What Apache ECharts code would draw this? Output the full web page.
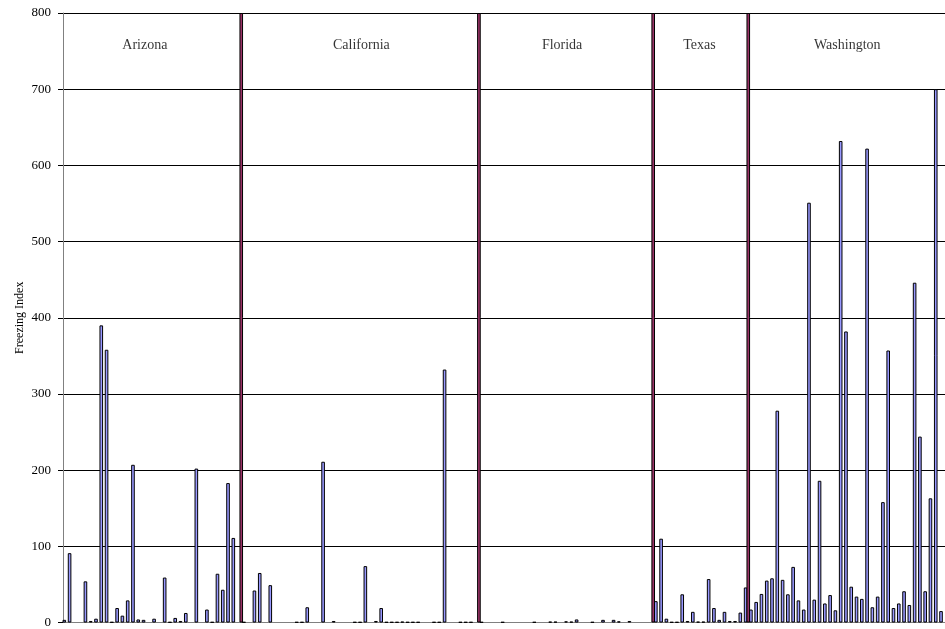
<!DOCTYPE html>
<html>
<head>
<meta charset="utf-8">
<script src="https://cdn.jsdelivr.net/npm/echarts@6/dist/echarts.min.js"></script>
<style>
  html, body { margin: 0; padding: 0; background: #fff; }
  #chart { width: 945px; height: 629px; }
</style>
</head>
<body>
<div id="chart"></div>
<script>
// freezing index per site, in chart order (null = no value)
const freezingIndex = [
  3.5, 91, null, null, 54, 2, 5, 390, 358, 0.5,
  19, 9, 29, 207, 4, 3.5, null, 5, null, 59,
  0.5, 6, 2, 12.5, null, 202, null, 17, 0.5, 64,
  43, 183, 111, null, 0.5, null, 42, 65, null, 49,
  null, null, null, null, 0.5, 0.5, 20, null, null, 211,
  null, 2, null, null, null, 0.5, 0.5, 74, null, 2,
  19, 0.5, 0.5, 0.5, 1, 0.5, 0.5, 0.5, null, null,
  0.5, 0.5, 332, null, null, 0.5, 0.5, 0.5, null, 0.5,
  null, null, null, 0.5, null, null, null, null, null, 0.5,
  null, null, 1, 1, null, 1.5, 1, 4, null, null,
  0.5, null, 3.5, null, 3.5, 1.5, null, 2, null, null,
  null, null, 28, 110, 5, 0.5, 0.5, 37, 2, 14,
  1, 1, 57, 19, 3.5, 14, 2, 2, 13, 46,
  17, 27, 37.5, 55, 58, 278, 56, 37, 73, 29,
  17, 551, 30, 186, 25, 36, 16, 632, 382, 47,
  34, 31, 622, 20, 34, 158, 357, 19, 25, 41,
  23, 446, 244, 41, 163, 700, 15
]

// state dividers (second series, full height)
const dividerSites = [33, 78, 111, 129]
const dividerValue = 800

const states = ['Arizona', 'California', 'Florida', 'Texas', 'Washington']
const stateLabelSites = [15, 56, 94, 120, 148]
const stateLabelValue = 757

const yTicks = { min: 0, max: 800, interval: 100 }

const sites = freezingIndex.map((v, i) => 'Site ' + (i + 1))
const dividers = freezingIndex.map((v, i) => dividerSites.indexOf(i) >= 0 ? dividerValue : null)
const stateLabels = states.map((s, i) => ({ name: s, value: [stateLabelSites[i], stateLabelValue] }))

const chart = echarts.init(document.getElementById('chart'))
chart.setOption({
  animation: false,
  grid: {
    left: 63,
    right: -2.4,
    top: 13,
    bottom: 4
  },
  xAxis: {
    type: 'category',
    data: sites,
    axisLine: { show: true, lineStyle: { color: '#808080', width: 1 } },
    axisTick: { show: false },
    axisLabel: { show: false },
    splitLine: { show: false }
  },
  yAxis: {
    type: 'value',
    min: yTicks.min,
    max: yTicks.max,
    interval: yTicks.interval,
    name: 'Freezing Index',
    nameLocation: 'middle',
    nameGap: 37,
    nameMoveOverlap: false,
    nameTextStyle: { fontFamily: 'Liberation Serif', fontSize: 12, color: '#000' },
    axisLine: { show: true, lineStyle: { color: '#808080', width: 1 } },
    axisTick: { show: true, inside: false, length: 5, lineStyle: { color: '#000' } },
    axisLabel: { fontFamily: 'Liberation Serif', fontSize: 13, color: '#000', margin: 12 },
    splitLine: { show: true, lineStyle: { color: '#000', width: 1 } }
  },
  series: [
    {
      name: 'Freezing Index',
      type: 'bar',
      data: freezingIndex,
      barWidth: 3.6,
      barGap: '-26%',
      itemStyle: { color: '#9999ff', borderColor: '#000', borderWidth: 1 }
    },
    {
      name: 'Divider',
      type: 'bar',
      data: dividers,
      barWidth: 3.6,
      barGap: '-26%',
      itemStyle: { color: '#993366', borderColor: '#000', borderWidth: 1 }
    },
    {
      name: 'States',
      type: 'scatter',
      data: stateLabels,
      symbolSize: 1,
      itemStyle: { color: 'rgba(0,0,0,0)' },
      label: {
        show: true,
        position: 'inside',
        formatter: '{b}',
        fontFamily: 'Liberation Serif',
        fontSize: 14,
        color: '#000'
      }
    }
  ]
})
</script>
</body>
</html>
